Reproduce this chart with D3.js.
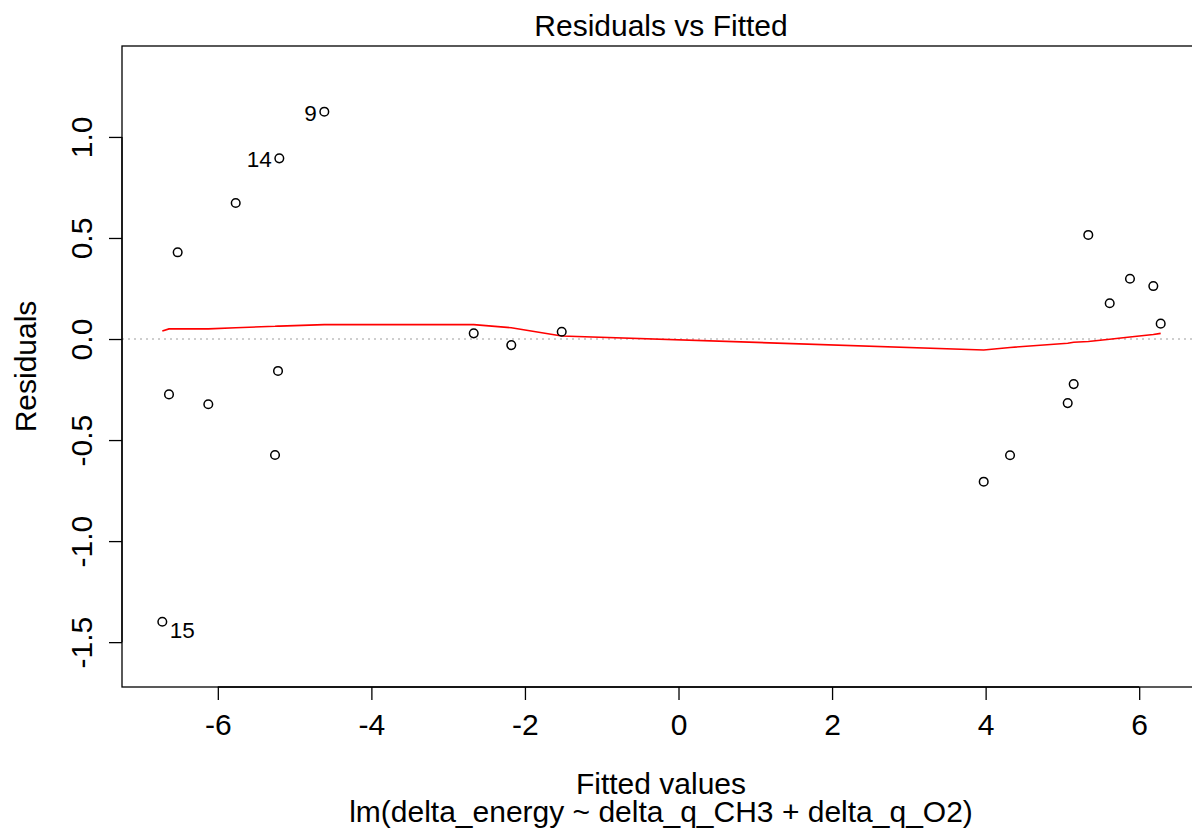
<!DOCTYPE html>
<html>
<head>
<meta charset="utf-8">
<script src="https://cdn.jsdelivr.net/npm/d3@7"></script>
<style>
  html, body { margin: 0; padding: 0; background: #fff; }
  svg { display: block; font-family: "Liberation Sans", Arial, sans-serif; }
</style>
</head>
<body>
<svg id="chart" width="1192" height="829"></svg>
<script>
// Fitted values (sorted ascending) and their residuals
const fitted = [-6.723, -6.636, -6.523, -6.124, -5.767, -5.255, -5.216, -5.199, -4.613,
                -2.667, -2.178, -1.521,
                3.975, 4.318, 5.069, 5.147, 5.337, 5.616, 5.880, 6.184, 6.280];
const residuals = [-1.399, -0.274, 0.429, -0.323, 0.673, -0.574, -0.158, 0.894, 1.125,
                   0.028, -0.030, 0.036,
                   -0.706, -0.575, -0.317, -0.223, 0.515, 0.177, 0.298, 0.262, 0.076];
// Lowess smoother evaluated at each fitted value
const smooth = [0.040, 0.050, 0.050, 0.050, 0.056, 0.063, 0.064, 0.064, 0.071,
                0.071, 0.056, 0.015,
                -0.054, -0.042, -0.021, -0.016, -0.012, -0.001, 0.010, 0.022, 0.028];
// Observation numbers shown for the largest residuals
const pointIds = ["15", "", "", "", "", "", "", "14", "9",
                  "", "", "",
                  "", "", "", "", "", "", "", "", ""];

const xTicks = [-6, -4, -2, 0, 2, 4, 6];
const yTicks = [-1.5, -1.0, -0.5, 0.0, 0.5, 1.0];

const titleText = "Residuals vs Fitted";
const xLabel = "Fitted values";
const yLabel = "Residuals";
const subCaption = "lm(delta_energy ~ delta_q_CH3 + delta_q_O2)";

const svg = d3.select("#chart");
const plotL = 122, plotR = 1200, plotT = 46, plotB = 687;

const x = d3.scaleLinear().domain([-7.248, 6.792]).range([plotL, plotR]);
const y = d3.scaleLinear().domain([-1.722, 1.450]).range([plotB, plotT]);

const FS = 30;

// zero reference line
svg.append("line")
  .attr("x1", plotL).attr("x2", plotR)
  .attr("y1", y(0)).attr("y2", y(0))
  .attr("stroke", "#bebebe").attr("stroke-width", 1.3)
  .attr("stroke-dasharray", "2,4");

// lowess smoother
const pts = fitted.map((f, i) => ({ f, r: residuals[i], s: smooth[i], id: pointIds[i] }));
svg.append("path")
  .datum(pts)
  .attr("fill", "none").attr("stroke", "#ff0000").attr("stroke-width", 1.6)
  .attr("d", d3.line().x(d => x(d.f)).y(d => y(d.s)));

// points
svg.append("g").selectAll("circle").data(pts).join("circle")
  .attr("cx", d => x(d.f)).attr("cy", d => y(d.r)).attr("r", 4.3)
  .attr("fill", "none").attr("stroke", "#000").attr("stroke-width", 1.5);

// id labels: left of the point when it lies right of the labelled range midpoint
const labelled = pts.filter(d => d.id !== "");
const midF = (d3.min(labelled, d => d.f) + d3.max(labelled, d => d.f)) / 2;
svg.append("g").selectAll("text").data(labelled).join("text")
  .attr("x", d => d.f > midF ? x(d.f) - 7.5 : x(d.f) + 7.5)
  .attr("y", d => d.f > midF ? y(d.r) + 9 : y(d.r) + 16)
  .attr("text-anchor", d => d.f > midF ? "end" : "start")
  .attr("font-size", 22.5).attr("fill", "#000")
  .text(d => d.id);

// plot box
svg.append("rect")
  .attr("x", plotL).attr("y", plotT)
  .attr("width", plotR - plotL).attr("height", plotB - plotT)
  .attr("fill", "none").attr("stroke", "#000").attr("stroke-width", 1.3);

// x axis
const xAxis = d3.axisBottom(x).tickValues(xTicks).tickSize(13).tickPadding(14)
  .tickFormat(d3.format("d"));
const gx = svg.append("g").attr("transform", `translate(0,${plotB})`).call(xAxis);
gx.select(".domain").attr("d", `M${x(xTicks[0])},0H${x(xTicks[xTicks.length - 1])}`)
  .attr("stroke-width", 1.3);
gx.selectAll(".tick line").attr("stroke-width", 1.3);
gx.selectAll(".tick text").attr("font-size", FS).attr("font-family", "Liberation Sans, Arial, sans-serif")
  .attr("fill", "#000").text(d => d < 0 ? "-" + Math.abs(d) : d);

// y axis with rotated labels
const yAxis = d3.axisLeft(y).tickValues(yTicks).tickSize(13).tickFormat(d3.format(".1f"));
const gy = svg.append("g").attr("transform", `translate(${plotL},0)`).call(yAxis);
gy.select(".domain").attr("d", `M0,${y(yTicks[0])}V${y(yTicks[yTicks.length - 1])}`)
  .attr("stroke-width", 1.3);
gy.selectAll(".tick line").attr("stroke-width", 1.3);
gy.selectAll(".tick text")
  .attr("font-size", FS).attr("font-family", "Liberation Sans, Arial, sans-serif").attr("fill", "#000")
  .attr("x", null).attr("dy", null)
  .attr("text-anchor", "middle")
  .attr("transform", "translate(-30,0) rotate(-90)")
  .text(d => d < 0 ? "-" + Math.abs(d).toFixed(1) : d.toFixed(1));

// title and axis titles
const cx = (plotL + plotR) / 2;
svg.append("text").attr("x", cx).attr("y", 36).attr("text-anchor", "middle")
  .attr("font-size", FS).text(titleText);
svg.append("text").attr("x", cx).attr("y", 794).attr("text-anchor", "middle")
  .attr("font-size", FS).text(xLabel);
svg.append("text").attr("x", cx).attr("y", 822).attr("text-anchor", "middle")
  .attr("font-size", FS).text(subCaption);
svg.append("text")
  .attr("transform", `translate(36,${(plotT + plotB) / 2}) rotate(-90)`)
  .attr("text-anchor", "middle").attr("font-size", FS).text(yLabel);
</script>
</body>
</html>
